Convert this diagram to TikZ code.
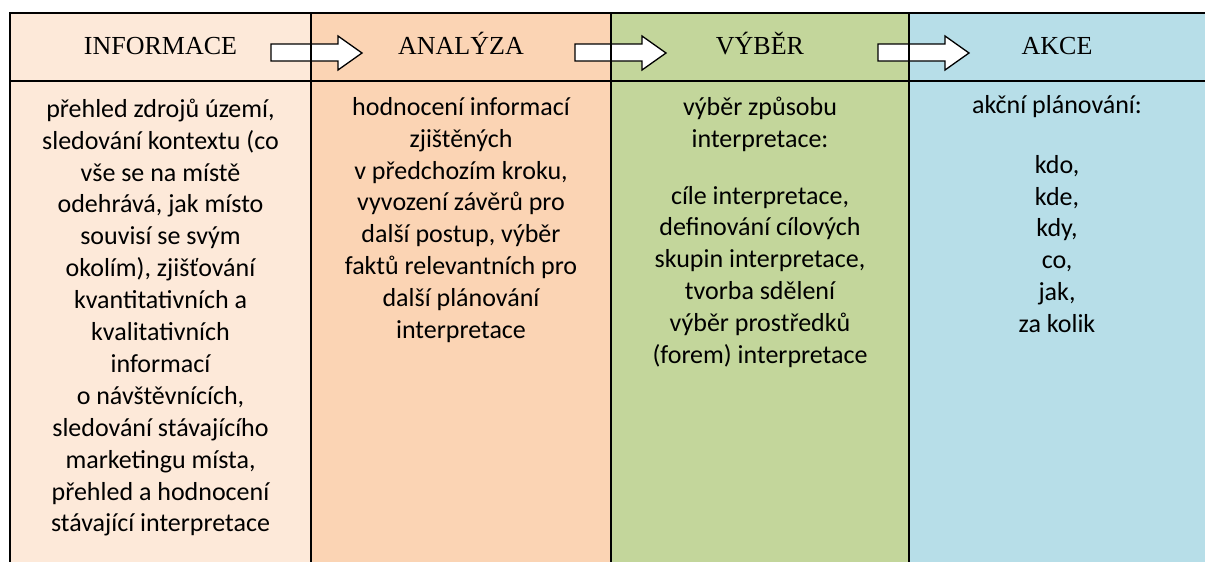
\documentclass[tikz,border=0pt]{standalone}
\usepackage{fontspec}
\setmainfont{Liberation Serif}
\newfontfamily\bodyfont{Carlito}
\definecolor{colA}{HTML}{FDE9D9}
\definecolor{colB}{HTML}{FBD4B4}
\definecolor{colC}{HTML}{C3D69B}
\definecolor{colD}{HTML}{B7DEE8}
\begin{document}
\begin{tikzpicture}[x=1pt,y=-1pt,
  hdr/.style={font=\fontsize{26}{31}\selectfont, text=black, anchor=base, inner sep=0pt},
  body/.style={font=\bodyfont\fontsize{26}{31.9}\selectfont, align=center, anchor=north, inner sep=0pt, text=black},
  gridline/.style={line width=1.5pt, draw=black},
  blockarrow/.style={draw=black, line width=1.3pt, fill=white, line join=miter}]
\useasboundingbox (0,0) rectangle (1205,562);
\fill[white] (0,0) rectangle (1205,562);
\fill[colA] (10,13) rectangle (311,562);
\fill[colB] (311,13) rectangle (611,562);
\fill[colC] (611,13) rectangle (909,562);
\fill[colD] (909,13) rectangle (1205,562);

% block arrows
\foreach \s in {271,575,878}{
  \draw[blockarrow] (\s,44) -- (\s+67,44) -- (\s+67,36) -- (\s+91,53) -- (\s+67,70) -- (\s+67,61) -- (\s,61) -- cycle;
}

% grid
\draw[gridline] (1205,13) -- (10,13) -- (10,562);
\draw[gridline] (10,81) -- (1205,81);
\draw[gridline] (311,13) -- (311,562);
\draw[gridline] (611,13) -- (611,562);
\draw[gridline] (909,13) -- (909,562);

% headers
\node[hdr] (hA) at (160.5,54) {INFORMACE};
\node[hdr] (hB) at (461,54) {ANALÝZA};
\node[hdr] (hC) at (760,54) {VÝBĚR};
\node[hdr] (hD) at (1057,54) {AKCE};

% bodies
\node[body] (bA) at (160.5,94.7) {\strut přehled zdrojů území,\\
sledování kontextu (co\\
vše se na místě\\
odehrává, jak místo\\
souvisí se svým\\
okolím), zjišťování\\
kvantitativních a\\
kvalitativních\\
informací\\
o návštěvnících,\\
sledování stávajícího\\
marketingu místa,\\
přehled a hodnocení\\
stávající interpretace};
\node[body] (bB) at (461,92.7) {\strut hodnocení informací\\
zjištěných\\
v předchozím kroku,\\
vyvození závěrů pro\\
další postup, výběr\\
faktů relevantních pro\\
další plánování\\
interpretace};
\node[body] (bC) at (760,92.7) {\strut výběr způsobu\\
interpretace:\\[25pt]
cíle interpretace,\\
definování cílových\\
skupin interpretace,\\
tvorba sdělení\\
výběr prostředků\\
(forem) interpretace};
\node[body] (bD) at (1057,90.7) {\strut akční plánování:\\[28pt]
kdo,\\
kde,\\
kdy,\\
co,\\
jak,\\
za kolik};
\end{tikzpicture}
\end{document}
